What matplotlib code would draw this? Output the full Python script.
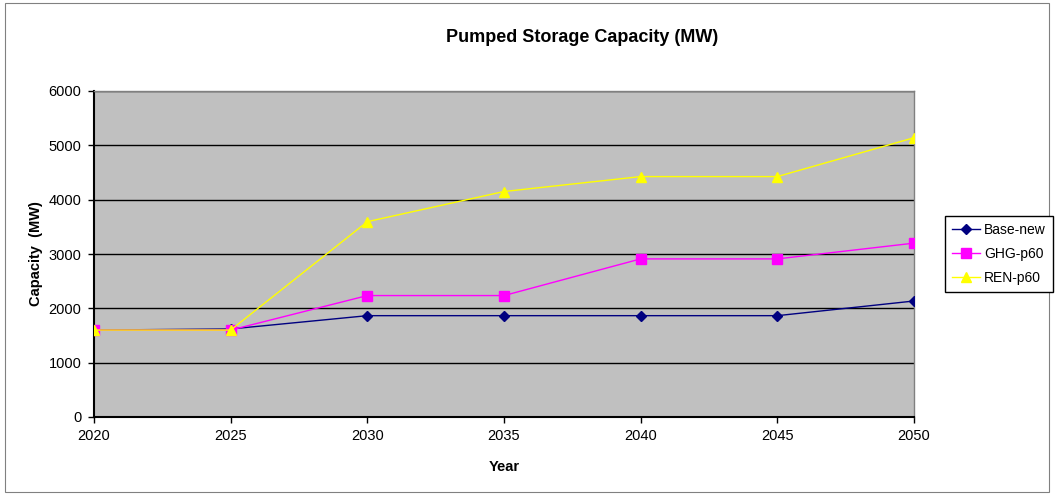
import matplotlib

matplotlib.use("Agg")
import matplotlib.pyplot as plt
from matplotlib.patches import Rectangle

plt.rcParams["font.family"] = ["Liberation Sans", "DejaVu Sans"]

years = [2020, 2025, 2030, 2035, 2040, 2045, 2050]
base_new = [1600, 1620, 1865, 1865, 1865, 1865, 2135]
ghg_p60 = [1600, 1600, 2235, 2235, 2910, 2910, 3200]
ren_p60 = [1600, 1600, 3595, 4150, 4425, 4425, 5140]

fig = plt.figure(figsize=(10.55, 4.95), dpi=100)
fig.patches.append(Rectangle((5 / 1055, 3 / 495), 1044 / 1055, 489 / 495,
                             transform=fig.transFigure, fill=False,
                             edgecolor="#808080", linewidth=0.8))

ax = fig.add_axes([94 / 1055, 1 - 417 / 495, 820 / 1055, 326 / 495])
ax.set_facecolor("#C0C0C0")

ax.plot(years, base_new, color="#000080", marker="D", markersize=5,
        linewidth=1, label="Base-new", zorder=3)
ax.plot(years, ghg_p60, color="#FF00FF", marker="s", markersize=7,
        linewidth=1, label="GHG-p60", zorder=3)
ax.plot(years, ren_p60, color="#FFFF00", marker="^", markersize=7,
        linewidth=1, label="REN-p60", zorder=3)

ax.set_xlim(2020, 2050)
ax.set_ylim(0, 6000)
ax.set_xticks(years)
ax.set_yticks(range(0, 6001, 1000))
ax.yaxis.grid(True, color="black", linewidth=1)
ax.set_axisbelow(True)
ax.tick_params(labelsize=10.5, direction="out", length=4, width=1, pad=5)
for s in ax.spines.values():
    s.set_color("black")
    s.set_linewidth(1)
ax.spines["right"].set_color("#808080")
ax.spines["top"].set_color("#808080")
ax.spines["left"].set_linewidth(1.5)
ax.spines["bottom"].set_linewidth(1.5)

ax.set_xlabel("Year", fontsize=10.5, fontweight="bold", labelpad=12)
ax.set_ylabel("Capacity  (MW)", fontsize=10.5, fontweight="bold", labelpad=4)
fig.text(582 / 1055, 1 - 37 / 495, "Pumped Storage Capacity (MW)",
         fontsize=13, fontweight="bold", ha="center", va="center")

fig.legend(loc="center left", bbox_to_anchor=(945 / 1055, 1 - 254 / 495),
           fontsize=10, frameon=True, fancybox=False, edgecolor="black",
           framealpha=1, borderpad=0.5, handlelength=2.0, labelspacing=0.7,
           handletextpad=0.3, borderaxespad=0)

fig.savefig("out.png", dpi=100)
